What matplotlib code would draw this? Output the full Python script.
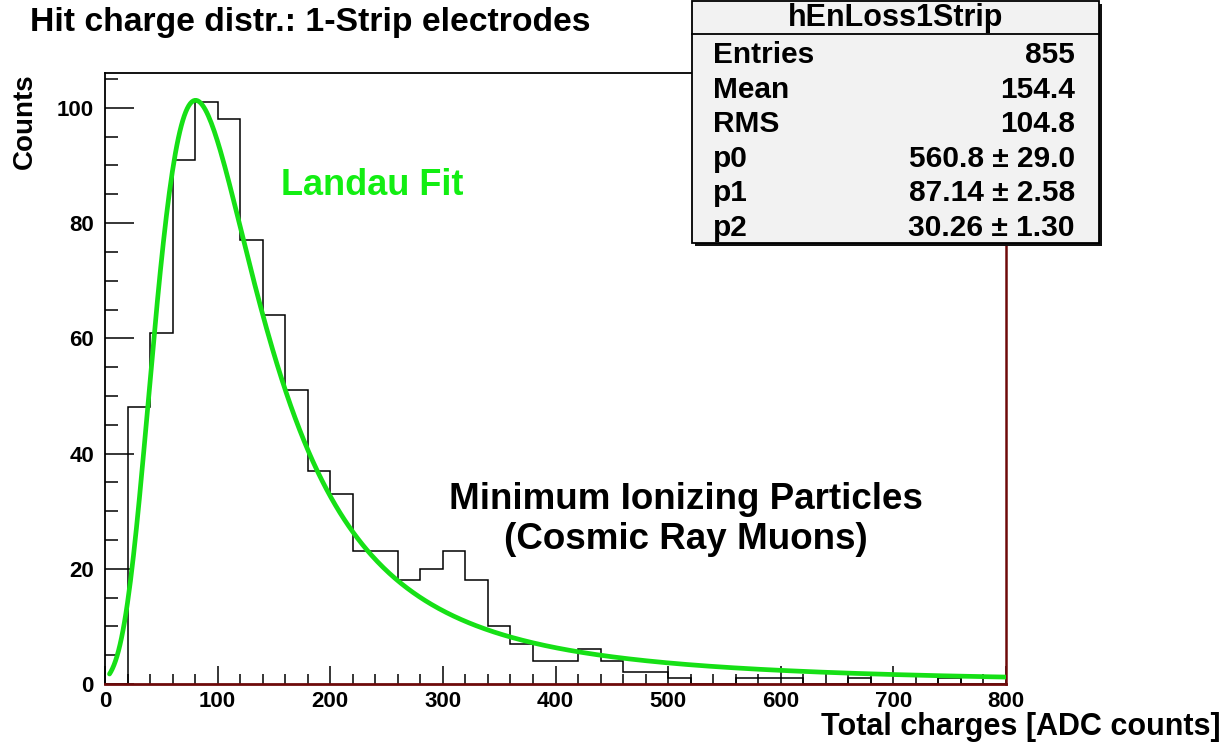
import numpy as np
import matplotlib
matplotlib.use("Agg")
import matplotlib.pyplot as plt
from matplotlib.patches import Rectangle
from matplotlib.lines import Line2D
from matplotlib.ticker import MultipleLocator

plt.rcParams['font.family'] = ['Liberation Sans', 'DejaVu Sans']
plt.rcParams['font.weight'] = 'bold'

# histogram hEnLoss1Strip: 40 bins of 20 ADC counts from 0 to 800
bin_lo, bin_hi, bin_w = 0, 800, 20
counts = [0, 48, 61, 91, 101, 98, 77, 64, 51, 37,
          33, 23, 23, 18, 20, 23, 18, 10, 7, 4,
          4, 6, 4, 2, 2, 1, 0, 0, 1, 1,
          1, 0, 0, 1, 0, 0, 0, 1, 0, 0]

# Landau fit parameters from the stats box
p0, p0_err = 560.8, 29.0
p1, p1_err = 87.14, 2.58
p2, p2_err = 30.26, 1.30
fit_lo, fit_hi = 4, 800

stats_rows = [("Entries", "855"),
              ("Mean", "154.4"),
              ("RMS", "104.8"),
              ("p0", f"{p0:.1f} \u00b1 {p0_err:.1f}"),
              ("p1", f"{p1:.2f} \u00b1 {p1_err:.2f}"),
              ("p2", f"{p2:.2f} \u00b1 {p2_err:.2f}")]


def landau(lam):
    # Landau density via the inverse Laplace integral along a saddle-point contour
    y = np.linspace(0, 40, 40001)
    out = np.empty_like(lam)
    for i, l in enumerate(lam):
        c = np.exp(-1.0 - l)
        s = c + 1j * y
        f = np.exp(s * np.log(s) + l * s).real
        out[i] = np.trapezoid(f, y) / np.pi
    return out


W, H = 1226, 747
fig = plt.figure(figsize=(W / 100, H / 100), dpi=100)


def fx(px):
    return px / W


def fy(py):
    return 1 - py / H


ax = fig.add_axes([fx(105), fy(684), fx(1006) - fx(105), fy(73) - fy(684)])

edges = np.arange(bin_lo, bin_hi + bin_w, bin_w)
ax.stairs(counts, edges, color='black', lw=1.1, zorder=2)

xf = np.linspace(fit_lo, fit_hi, 600)
yf = p0 * landau((xf - p1) / p2)
ax.plot(xf, yf, color='#16e016', lw=3.4, solid_capstyle='round', zorder=3)

ax.set_xlim(0, 800)
ax.set_ylim(0, max(counts) * 1.05)

ax.xaxis.set_major_locator(MultipleLocator(100))
ax.xaxis.set_minor_locator(MultipleLocator(20))
ax.yaxis.set_major_locator(MultipleLocator(20))
ax.yaxis.set_minor_locator(MultipleLocator(5))
ax.tick_params(axis='x', which='major', direction='in', length=13, width=1.1, labelsize=16, pad=5)
ax.tick_params(axis='x', which='minor', direction='in', length=7, width=1.1)
ax.tick_params(axis='y', which='major', direction='in', length=21, width=1.1, labelsize=16, pad=8)
ax.tick_params(axis='y', which='minor', direction='in', length=9.5, width=1.1)
for lab in ax.get_xticklabels() + ax.get_yticklabels():
    lab.set_fontweight('bold')

ax.spines['left'].set_color('black')
ax.spines['left'].set_linewidth(1.3)
ax.spines['top'].set_color('black')
ax.spines['top'].set_linewidth(1.3)
ax.spines['bottom'].set_color('#6e0a0a')
ax.spines['bottom'].set_linewidth(2.0)
ax.spines['right'].set_color('#6e0a0a')
ax.spines['right'].set_linewidth(1.8)

# annotations inside the frame
ax.text(237, 86.5, "Landau Fit", color='#12ee12', fontsize=26, fontweight='bold',
        ha='center', va='center')
ax.text(516, 28.5, "Minimum Ionizing Particles\n(Cosmic Ray Muons)", color='black',
        fontsize=26.5, fontweight='bold', ha='center', va='center',
        multialignment='center', linespacing=1.2)

# titles
fig.text(fx(30), fy(23), "Hit charge distr.: 1-Strip electrodes", fontsize=24.3,
         fontweight='bold', ha='left', va='center')
fig.text(fx(25), fy(73), "Counts", fontsize=20, fontweight='bold', rotation=90,
         ha='center', va='top')
fig.text(fx(1221), fy(727), "Total charges [ADC counts]", fontsize=22,
         fontweight='bold', ha='right', va='center')

# stats box
bx0, by0, bx1, by1 = 692, 1, 1099, 243
shadow = Rectangle((fx(bx0 + 3), fy(by1 + 3)), fx(bx1) - fx(bx0), fy(by0) - fy(by1),
                   transform=fig.transFigure, facecolor='#111111', edgecolor='none', zorder=5)
box = Rectangle((fx(bx0), fy(by1)), fx(bx1) - fx(bx0), fy(by0) - fy(by1),
                transform=fig.transFigure, facecolor='#f2f2f2', edgecolor='black',
                lw=1.3, zorder=6)
fig.add_artist(shadow)
fig.add_artist(box)
fig.add_artist(Line2D([fx(bx0), fx(bx1)], [fy(34), fy(34)], transform=fig.transFigure,
                      color='black', lw=1.3, zorder=7))
fig.text(fx((bx0 + bx1) / 2), fy(18), "hEnLoss1Strip", fontsize=22, fontweight='bold',
         ha='center', va='center', zorder=8)
row_y = 55
for name, val in stats_rows:
    fig.text(fx(713), fy(row_y), name, fontsize=21.5, fontweight='bold',
             ha='left', va='center', zorder=8)
    fig.text(fx(1075), fy(row_y), val, fontsize=21.5, fontweight='bold',
             ha='right', va='center', zorder=8)
    row_y += 34.6

fig.savefig("out.png", dpi=100)
